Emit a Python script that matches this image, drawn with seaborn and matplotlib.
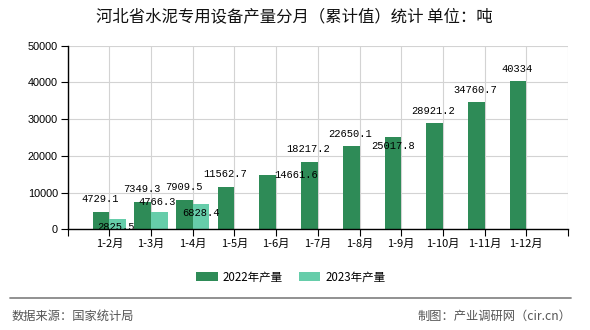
import matplotlib
matplotlib.use("Agg")
import matplotlib.pyplot as plt
import seaborn as sns
import pandas as pd
import numpy as np

# ---- data ----
months = ['1-2月', '1-3月', '1-4月', '1-5月', '1-6月', '1-7月', '1-8月',
          '1-9月', '1-10月', '1-11月', '1-12月']
prod_2022 = [4729.1, 7349.3, 7909.5, 11562.7, 14661.6, 18217.2, 22650.1,
             25017.8, 28921.2, 34760.7, 40334]
months_2023 = ['1-2月', '1-3月', '1-4月']
prod_2023 = [2825.5, 4766.3, 6828.4]
series_names = ['2022年产量', '2023年产量']
yticks = [0, 10000, 20000, 30000, 40000, 50000]

# label offsets (px: dx, dy of label centre relative to bar top centre)
offsets_2022 = [(-1, 12.5), (-1, 13), (-1, 13), (-1, 13), (28, 0), (-1, 13),
                (-1, 12), (0, -8.5), (-1, 12), (-1, 12), (-1, 12)]
offsets_2023 = [(-2, -8), (-2, 10), (0, -9)]

df = pd.concat([
    pd.DataFrame({'month': months, 'value': prod_2022, 'series': series_names[0]}),
    pd.DataFrame({'month': months_2023, 'value': prod_2023, 'series': series_names[1]}),
], ignore_index=True)

sns.set_theme(style='white')
plt.rcParams['font.family'] = ['Noto Sans CJK SC', 'DejaVu Sans']

DPI = 100
PX = 72.0 / DPI
fig = plt.figure(figsize=(5.9, 3.3), dpi=DPI)
ax = fig.add_axes([67.7 / 590, 1 - 229.3 / 330, (568 - 67.7) / 590, (229.3 - 45.7) / 330])

colors = ['#2E8B57', '#66CDAA']
sns.barplot(data=df, x='month', y='value', hue='series', order=months,
            hue_order=series_names, palette=colors, width=0.8, gap=0,
            errorbar=None, saturation=1, ax=ax, zorder=2,
            edgecolor='none', linewidth=0)

ax.set_xlim(-1, 11)
ax.set_ylim(0, 50000)
ax.set_yticks(yticks)
ax.set_yticklabels([str(v) for v in yticks], fontsize=7.8, family='Liberation Sans')
ax.set_xticks(range(-1, 12))
ax.set_xticklabels([''] + months + [''], fontsize=8)
ax.set_xlabel('')
ax.set_ylabel('')
ax.set_axisbelow(True)
ax.grid(True, color='#d3d3d3', lw=0.8)
for s in ['top', 'right']:
    ax.spines[s].set_visible(False)
for s in ['left', 'bottom']:
    ax.spines[s].set_color('black')
    ax.spines[s].set_linewidth(1)
ax.tick_params(axis='both', which='both', direction='out', length=5, width=0.8,
               color='black', labelcolor='black', pad=2,
               left=True, bottom=True)

# bar labels
for cont, vals, offs in zip(ax.containers, [prod_2022, prod_2023], [offsets_2022, offsets_2023]):
    for bar, v, (dx, dy) in zip(cont.patches, vals, offs):
        x = bar.get_x() + bar.get_width() / 2
        h = bar.get_height()
        ax.annotate(f'{v:g}', (x, h), xytext=(dx * PX, dy * PX), textcoords='offset points',
                    ha='center', va='center', fontsize=7.5, family='Liberation Mono',
                    color='black', zorder=5, annotation_clip=False)

# legend
handles, labels = ax.get_legend_handles_labels()
if ax.get_legend() is not None:
    ax.get_legend().remove()
fig.legend(handles, labels, loc='center', bbox_to_anchor=(291 / 590, 1 - 277 / 330),
           ncol=2, frameon=False, fontsize=8.3, handlelength=1.85, handleheight=0.8,
           handletextpad=0.45, columnspacing=1.4, labelcolor='black')

# title
fig.text(294 / 590, 1 - 17 / 330, '河北省水泥专用设备产量分月（累计值）统计 单位：吨',
         ha='center', va='center', fontsize=11.8, color='#111111')

# footer
fig.add_artist(plt.Line2D([10 / 590, 571 / 590], [1 - 297.7 / 330] * 2,
                          color='#888888', lw=1.3, transform=fig.transFigure))
fig.text(12 / 590, 1 - 316 / 330, '数据来源：国家统计局', ha='left', va='center',
         fontsize=8.8, color='#555555')
fig.text(571 / 590, 1 - 316 / 330, '制图：产业调研网（cir.cn）', ha='right', va='center',
         fontsize=8.8, color='#555555')

fig.savefig('out.png', dpi=DPI, facecolor='white')
